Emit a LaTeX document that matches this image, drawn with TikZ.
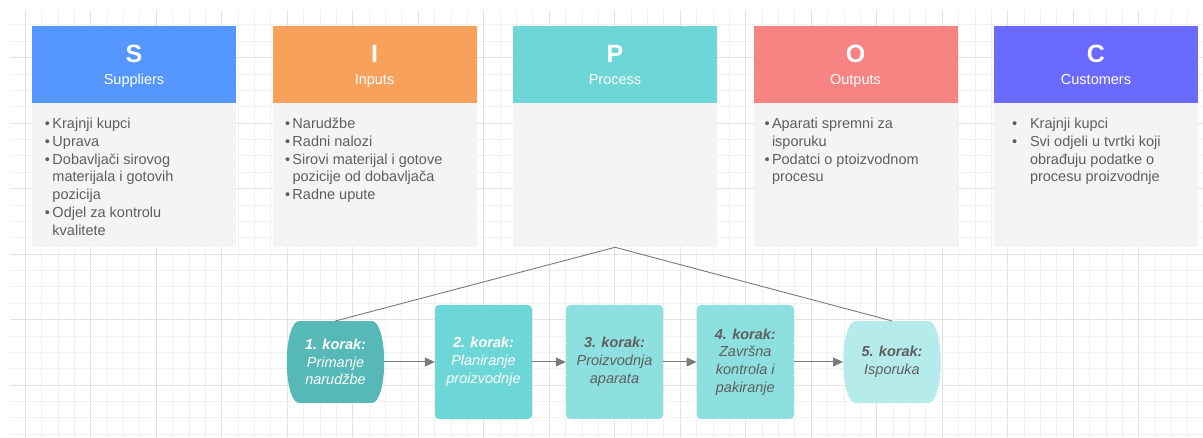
\documentclass[tikz,border=0pt]{standalone}
\usepackage{fontspec}
\setmainfont{Liberation Sans}
\usepackage{tikz}
\usetikzlibrary{arrows.meta,positioning,calc}

\definecolor{colS}{HTML}{5596FF}
\definecolor{colI}{HTML}{F7A15B}
\definecolor{colP}{HTML}{6DD6D6}
\definecolor{colO}{HTML}{F78383}
\definecolor{colC}{HTML}{6A6AFF}
\definecolor{tijelo}{HTML}{F4F4F4}
\definecolor{tekst}{HTML}{5E5E5E}
\definecolor{crta}{HTML}{7A7A7A}
\definecolor{mrezaA}{HTML}{F1F1F1}
\definecolor{mrezaB}{HTML}{E3E3E3}
\definecolor{k1col}{HTML}{57B8B8}
\definecolor{k2col}{HTML}{6DD6D6}
\definecolor{k3col}{HTML}{8EE0E0}
\definecolor{k5col}{HTML}{B5EBEA}

\newcommand{\bul}[1][7.5pt]{\makebox[#1][l]{\textbullet}}
\newcommand{\ind}[1][7.5pt]{\hspace*{#1}}

\begin{document}
\begin{tikzpicture}[x=1pt, y=1pt, font=\fontsize{14.5}{17.9}\selectfont]
%styles des blocs SIPOC et des etapes
\tikzset{glava/.style={fill=#1, text=white, minimum width=204pt, minimum height=77pt, inner sep=0pt, align=center, font=\fontsize{14.5}{21.8}\selectfont},
tijelo/.style={fill=tijelo, minimum width=204pt, minimum height=144pt, inner sep=0pt},
popis/.style={anchor=north west, inner sep=0pt, align=left, text=tekst},
korak/.style={fill=#1, rounded corners=4pt, minimum width=97pt, minimum height=114pt, inner sep=0pt, align=center, font=\fontsize{14.5}{17.8}\selectfont\itshape},
bacva/.style={minimum width=97.5pt, minimum height=81.7pt, inner sep=0pt, align=center, font=\fontsize{14.5}{17.8}\selectfont\itshape,
  path picture={\fill[#1] ([xshift=12pt]path picture bounding box.north west) -- ([xshift=-12pt]path picture bounding box.north east) arc[start angle=90, end angle=-90, x radius=12pt, y radius=40.85pt] -- ([xshift=12pt]path picture bounding box.south west) arc[start angle=270, end angle=90, x radius=12pt, y radius=40.85pt] -- cycle;}},
strelica/.style={draw=crta, line width=1pt, -{Triangle[length=10pt, width=9pt]}},
linija/.style={draw=crta, line width=0.9pt}}
\useasboundingbox (0,0) rectangle (1203,-438);
\fill[white] (0,0) rectangle (1203,-438);
%mreza
\foreach \i in {0,...,71} {\pgfmathsetmacro\gx{25.3+\i*16.375} \draw[mrezaA, line width=1pt] (\gx,-10) -- (\gx,-438);}
\foreach \i in {0,...,25} {\pgfmathsetmacro\gy{25+\i*16.375} \draw[mrezaA, line width=1pt] (10,-\gy) -- (1203,-\gy);}
\foreach \i in {0,4,...,68} {\pgfmathsetmacro\gx{25.3+\i*16.375} \draw[mrezaB, line width=1pt] (\gx,-10) -- (\gx,-438);}
\foreach \i in {2,6,...,22} {\pgfmathsetmacro\gy{25+\i*16.375} \draw[mrezaB, line width=1pt] (10,-\gy) -- (1203,-\gy);}
%SIPOC
\foreach \n/\x/\t in {S/134/Suppliers, I/374.5/Inputs, P/615/Process, O/855.5/Outputs, C/1096/Customers} {
  \node[glava=col\n] (h\n) at (\x,-64.2) {{\fontsize{25}{25}\selectfont\bfseries\rule{0pt}{22pt}\n}\\\t\vphantom{p}};
  \node[tijelo] (b\n) [below=0pt of h\n] {};
}
\node[popis] (lS) at ([xshift=13pt,yshift=-14.6pt]bS.north west) {\bul Krajnji kupci\\\bul Uprava\\\bul Dobavljači sirovog\\\ind materijala i gotovih\\\ind pozicija\\\bul Odjel za kontrolu\\\ind kvalitete};
\node[popis] (lI) at ([xshift=12.5pt,yshift=-14.6pt]bI.north west) {\bul Narudžbe\\\bul Radni nalozi\\\bul Sirovi materijal i gotove\\\ind pozicije od dobavljača\\\bul Radne upute};
\node[popis] (lO) at ([xshift=11pt,yshift=-14.6pt]bO.north west) {\bul Aparati spremni za\\\ind isporuku\\\bul Podatci o ptoizvodnom\\\ind procesu};
\node[popis] (lC) at ([xshift=18pt,yshift=-14.6pt]bC.north west) {\bul[14pt] Krajnji kupci\\\bul[14pt] Svi odjeli u tvrtki koji\\\ind[14pt] obrađuju podatke o\\\ind[14pt] procesu proizvodnje};
%koraci procesa
\node[bacva=k1col, text=white] (k1) at (335.5,-362) {\textbf{1. korak:}\\Primanje\\narudžbe};
\node[korak=k2col, text=white] (k2) at (483.5,-362) {\textbf{2. korak:}\\Planiranje\\proizvodnje};
\node[korak=k3col, text=tekst] (k3) at (614.5,-362) {\textbf{3. korak:}\\Proizvodnja\\aparata};
\node[korak=k3col, text=tekst] (k4) at (745.3,-362) {\textbf{4. korak:}\\Završna\\kontrola i\\pakiranje};
\node[bacva=k5col, text=tekst] (k5) at (892,-362) {\textbf{5. korak:}\\Isporuka};
\draw[strelica] (k1) -- (k2);
\draw[strelica] (k2) -- (k3);
\draw[strelica] (k3) -- (k4);
\draw[strelica] (k4) -- (k5);
\draw[linija] (k1.north) -- (bP.south) -- (k5.north);
\end{tikzpicture}
\end{document}
